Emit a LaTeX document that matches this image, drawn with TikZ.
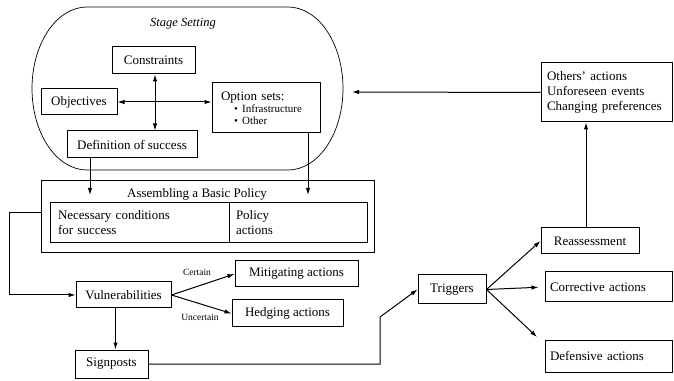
\documentclass[tikz,border=0pt]{standalone}
\usepackage{fontspec}
\setmainfont{Liberation Serif}
\usetikzlibrary{arrows.meta}
\begin{document}
\begin{tikzpicture}[x=1pt, y=1pt, line width=1pt,
    caixa/.style={draw, rectangle, inner sep=2pt, font=\fontsize{13}{15}\selectfont},
    rotulo/.style={font=\fontsize{9.5}{11}\selectfont},
    seta/.style={-{Latex[length=7pt, width=4.5pt]}},
    dupla/.style={{Latex[length=7pt, width=4.5pt]}-{Latex[length=7pt, width=4.5pt]}}]
    \useasboundingbox (0,0) rectangle (674,380);
    % Preparacao do cenario
    \draw[line width=0.7pt] (87,373) -- (288,373) arc[start angle=90, end angle=-90, x radius=55, y radius=81.5]
        -- (87,210) arc[start angle=270, end angle=90, x radius=55, y radius=81.5] -- cycle;
    \node at (183,356) (stage) [font=\fontsize{12.5}{14}\selectfont\itshape] {Stage Setting};
    \node at (153.5,319.5) (constr) [caixa, minimum width=83, minimum height=27] {Constraints};
    \node at (79,278) (obj) [caixa, minimum width=76, minimum height=26] {Objectives};
    \node at (266,272) (opt) [caixa, minimum width=108, minimum height=50, inner xsep=9, text width=90, align=left]
        {Option sets:\\[-3pt]\hspace*{13pt}{\fontsize{11}{13}\selectfont\textbullet\ Infrastructure}\\[-3pt]\hspace*{13pt}{\fontsize{11}{13}\selectfont\textbullet\ Other}};
    \node at (132,235.5) (def) [caixa, minimum width=130, minimum height=27] {Definition of success};
    \draw[dupla] (obj.east) -- (obj.east -| opt.west);
    \coordinate (c1) at ([xshift=1.5pt]constr.south);
    \draw[dupla] (c1) -- (c1 |- def.north);
    % Politica basica
    \node at (207.5,163) (assem) [caixa, minimum width=333, minimum height=72] {};
    \node at (197,186) (titulo) [font=\fontsize{13}{15}\selectfont] {Assembling a Basic Policy};
    \node at (139.5,157) (cond) [caixa, minimum width=179, minimum height=40, inner xsep=8, text width=163, align=left]
        {Necessary conditions\\for success};
    \node at (298,157) (pol) [caixa, minimum width=138, minimum height=40, inner xsep=7, text width=124, align=left]
        {Policy\\actions};
    \coordinate (pA) at (90,185);
    \coordinate (pB) at (308,185);
    \draw[seta] (def.south -| pA) -- (pA);
    \draw[seta] (opt.south -| pB) -- (pB);
    % Vulnerabilidades
    \node at (123.5,85) (vul) [caixa, minimum width=95, minimum height=26] {Vulnerabilities};
    \node at (296.5,106) (mit) [caixa, minimum width=123, minimum height=26] {Mitigating actions};
    \node at (287.5,66.5) (hed) [caixa, minimum width=111, minimum height=27] {Hedging actions};
    \node at (111.5,16) (sign) [caixa, minimum width=73, minimum height=28] {Signposts};
    \node at (197,108) (certo) [rotulo] {Certain};
    \node at (200,63) (incerto) [rotulo] {Uncertain};
    \draw[seta] ([yshift=4pt]assem.west) -- ++(-31,0) |- (vul.west);
    \draw[seta] (vul.east) -- (mit.west);
    \draw[seta] (vul.east) -- (hed.west);
    \coordinate (s1) at ([xshift=4pt]sign.north);
    \draw[seta] (s1 |- vul.south) -- (s1);
    % Gatilhos
    \node at (452,90.5) (trig) [caixa, minimum width=68, minimum height=29] {Triggers};
    \node at (590,139) (reav) [caixa, minimum width=98, minimum height=26] {Reassessment};
    \node at (608.5,93) (corr) [caixa, minimum width=127, minimum height=30, inner xsep=5, text width=117, align=left] {Corrective actions};
    \node at (608.5,24) (defe) [caixa, minimum width=127, minimum height=32, inner xsep=5, text width=117, align=left] {Defensive actions};
    \node at (606.5,287.5) (outros) [caixa, minimum width=131, minimum height=59, inner xsep=6, text width=119, align=left]
        {Others' actions\\Unforeseen events\\Changing preferences};
    \coordinate (dobra) at (380,63);
    \draw[seta] (sign.east) -| (dobra) -- (trig.west);
    \draw[seta] (trig.east) -- (reav.west);
    \draw[seta, shorten >=6pt] (trig.east) -- (corr.west);
    \coordinate (d1) at (537,43);
    \draw[seta] (trig.east) -- (d1);
    \coordinate (r1) at ([xshift=-4pt]reav.north);
    \draw[seta] (r1) -- (r1 |- outros.south);
    \coordinate (palco) at (352,288);
    \draw[seta] (outros.west) -- (palco);
\end{tikzpicture}
\end{document}
